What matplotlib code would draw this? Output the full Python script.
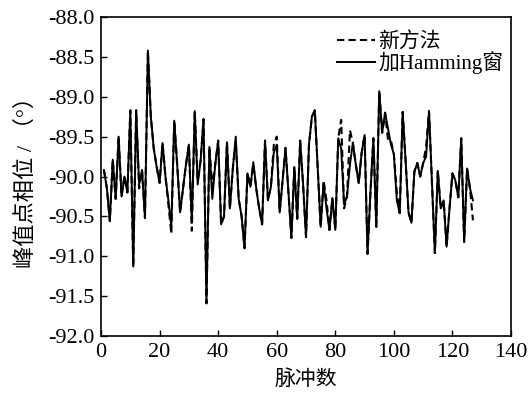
import matplotlib
matplotlib.use('Agg')
import matplotlib.pyplot as plt
from matplotlib.ticker import FormatStrFormatter

plt.rcParams['font.family'] = ['Liberation Serif', 'Noto Sans CJK SC']
plt.rcParams['axes.unicode_minus'] = True

# pulse index
pulses = list(range(1, 128))

# peak phase (deg), windowed with Hamming
hamming = [-89.92, -90.15, -90.56, -89.79, -90.28, -89.50, -90.25, -90.00, -90.20, -89.17,
           -91.13, -89.17, -90.10, -89.92, -90.52, -88.42, -89.25, -89.65, -89.88, -90.08,
           -89.58, -90.00, -90.30, -90.62, -89.30, -89.85, -90.45, -90.15, -89.85, -89.60,
           -90.58, -89.18, -90.10, -89.80, -89.28, -91.59, -89.63, -90.28, -89.85, -89.55,
           -90.60, -90.50, -89.57, -90.40, -89.90, -89.50, -90.28, -90.50, -90.90, -89.96,
           -90.13, -89.82, -90.15, -90.40, -90.60, -89.55, -90.30, -90.13, -89.70, -89.60,
           -90.45, -90.05, -89.64, -90.20, -90.77, -89.88, -90.53, -89.55, -90.10, -90.76,
           -89.60, -89.25, -89.17, -89.90, -90.63, -90.08, -90.40, -90.67, -90.27, -90.67,
           -89.52, -89.65, -90.35, -90.25, -89.85, -89.58, -89.85, -90.08, -89.70, -89.48,
           -90.97, -90.20, -89.52, -90.63, -88.93, -89.45, -89.20, -89.40, -89.60, -89.72,
           -90.30, -90.46, -89.19, -89.80, -90.45, -90.58, -89.94, -89.83, -90.00, -89.83,
           -89.75, -89.18, -90.07, -90.96, -89.93, -90.40, -90.30, -90.88, -90.40, -89.96,
           -90.05, -90.26, -89.52, -90.82, -89.90, -90.15, -90.30]

# peak phase (deg), new method
new_method = [-89.92, -90.15, -90.56, -89.79, -90.28, -89.50, -90.25, -90.00, -90.20, -89.17,
              -91.13, -89.17, -90.15, -89.92, -90.52, -88.42, -89.25, -89.65, -89.88, -90.08,
              -89.58, -90.00, -90.35, -90.72, -89.30, -89.85, -90.45, -90.15, -89.85, -89.60,
              -90.68, -89.18, -90.05, -89.80, -89.28, -91.59, -89.63, -90.13, -89.85, -89.55,
              -90.60, -90.50, -89.57, -90.40, -89.90, -89.55, -90.28, -90.50, -90.90, -89.96,
              -90.13, -89.85, -90.15, -90.40, -90.60, -89.55, -90.30, -90.13, -89.60, -89.50,
              -90.45, -90.05, -89.64, -90.20, -90.77, -89.88, -90.53, -89.55, -90.10, -90.76,
              -89.60, -89.25, -89.17, -89.90, -90.63, -90.05, -90.30, -90.67, -90.27, -90.67,
              -89.52, -89.29, -90.40, -90.25, -89.42, -89.58, -89.85, -90.08, -89.70, -89.48,
              -90.97, -90.20, -89.52, -90.63, -88.93, -89.45, -89.20, -89.54, -89.55, -89.72,
              -90.20, -90.46, -89.19, -89.80, -90.45, -90.58, -89.94, -89.83, -90.00, -89.83,
              -89.63, -89.18, -90.07, -90.96, -89.93, -90.40, -90.30, -90.88, -90.40, -89.96,
              -90.05, -90.26, -89.52, -90.82, -89.90, -90.15, -90.55]

fig = plt.figure(figsize=(5.29, 3.96), dpi=100)
ax = fig.add_axes([0.191, 0.1515, 0.775, 0.8055])

ax.plot(pulses, new_method, color='black', linestyle=(0, (3.5, 2)), linewidth=1.5, label='新方法')
ax.plot(pulses, hamming, color='black', linestyle='-', linewidth=1.4, label='加Hamming窗')

ax.set_xlim(0, 140)
ax.set_ylim(-92, -88)
ax.set_xticks(range(0, 141, 20))
ax.set_yticks([-92 + 0.5 * k for k in range(9)])
ax.yaxis.set_major_formatter(FormatStrFormatter('%.1f'))
ax.tick_params(direction='in', labelsize=16, length=4, width=1)
ax.tick_params(axis='y', pad=5)
ax.tick_params(axis='x', pad=5)
for s in ax.spines.values():
    s.set_linewidth(1.2)

ax.set_xlabel('脉冲数', fontsize=15, labelpad=6)
ax.set_ylabel('峰值点相位 / （°）', fontsize=16, labelpad=8)

ax.legend(loc='upper right', bbox_to_anchor=(1.0, 0.975), frameon=False, fontsize=15,
          handlelength=1.85, handletextpad=0.15, labelspacing=-0.05,
          borderaxespad=0.0, borderpad=0.35)

fig.savefig('out.png', dpi=100)
